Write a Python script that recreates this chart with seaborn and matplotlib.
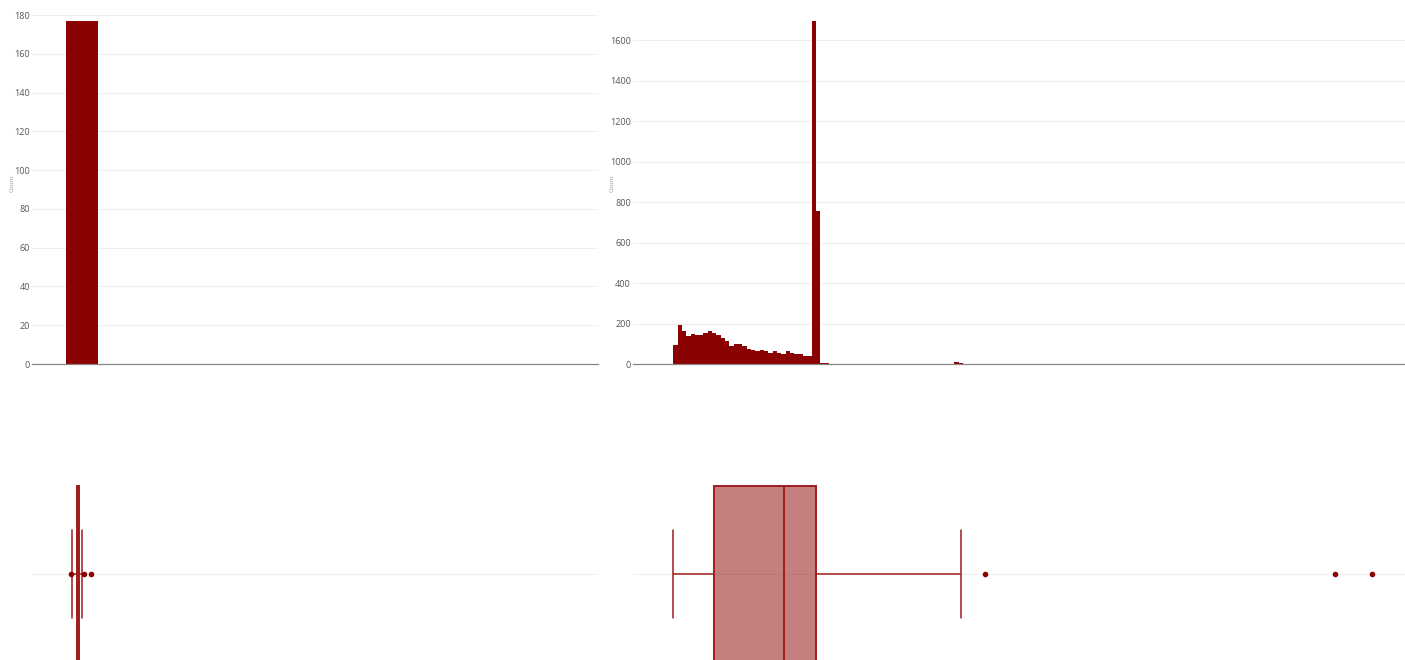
import numpy as np
import pandas as pd
import matplotlib
matplotlib.use("Agg")
import matplotlib.pyplot as plt
import seaborn as sns

# ---- data -----------------------------------------------------------------
# left variable: a single histogram bin and its box summary
left_bin_edges = [0.0, 10.0]
left_bin_counts = [177]
left_box = dict(whislo=2.0, q1=3.4, med=3.75, q3=4.1, whishi=5.1,
                fliers=[1.56, 5.72, 7.8])

# right variable: distinct values and how often each occurs
right_values = [0.0, 1.5, 2.5, 3.5, 4.5, 5.5, 6.5, 7.5, 8.5, 9.5,
                10.5, 11.5, 12.5, 13.5, 14.5, 15.5, 16.5, 17.5, 18.5, 19.5,
                20.5, 21.5, 22.5, 23.5, 24.5, 25.5, 26.5, 27.5, 28.5, 29.5,
                30.5, 31.5, 32.9, 33.5, 34.5, 35.5, 65.5, 66.5, 72.2, 153.0, 161.6]
right_counts = [92, 192, 163, 138, 148, 145, 145, 155, 163, 155,
                145, 130, 113, 88, 98, 98, 88, 75, 67, 62,
                68, 65, 55, 62, 55, 47, 62, 53, 50, 47,
                42, 40, 1695, 755, 4, 3, 8, 6, 1, 1, 1]

left_yticks = [0, 20, 40, 60, 80, 100, 120, 140, 160, 180]
right_yticks = [0, 200, 400, 600, 800, 1000, 1200, 1400, 1600]

# ---- style ----------------------------------------------------------------
sns.set_theme(style="white")
plt.rcParams["font.family"] = ["Open Sans", "DejaVu Sans"]

BAR = "#8B0000"
LINE = "#A01D1D"
FILL = (139 / 255, 0, 0, 0.5)
GRID = "#EEEEEE"
TICK = "#555555"

W, H = 1405, 660
fig = plt.figure(figsize=(W / 100, H / 100), dpi=100)


def px_axes(x0, y0, x1, y1):
    return fig.add_axes([x0 / W, 1 - y1 / H, (x1 - x0) / W, (y1 - y0) / H])


ax_tl = px_axes(32, 3, 598, 364)
ax_tr = px_axes(633, 3, 1405, 364)
ax_bl = px_axes(32, 400, 598, 660)
ax_br = px_axes(633, 400, 1405, 660)

# ---- histograms -----------------------------------------------------------
left_centers = [(a + b) / 2 for a, b in zip(left_bin_edges[:-1], left_bin_edges[1:])]
sns.histplot(x=left_centers, weights=left_bin_counts, bins=left_bin_edges,
             color=BAR, alpha=1, linewidth=0, ax=ax_tl)
sns.histplot(x=right_values, weights=right_counts, binwidth=1, binrange=(0, 162),
             color=BAR, alpha=1, linewidth=0, ax=ax_tr)

ax_tl.set_xlim(-10.6, 166.25)
ax_tl.set_ylim(0, 186.3)
ax_tl.set_yticks(left_yticks)
ax_tr.set_xlim(-9.3, 169.2)
ax_tr.set_ylim(0, 1784)
ax_tr.set_yticks(right_yticks)

for ax, label_x in ((ax_tl, -0.031), (ax_tr, -0.024)):
    ax.set_xticks([])
    ax.set_xlabel("")
    ax.set_ylabel("Count", fontsize=4.5, color="#999999")
    ax.yaxis.set_label_coords(label_x, 0.5)
    ax.grid(axis="y", color=GRID, linewidth=0.7)
    ax.set_axisbelow(True)
    for s in ("top", "right", "left"):
        ax.spines[s].set_visible(False)
    ax.spines["bottom"].set_color("#888888")
    ax.spines["bottom"].set_linewidth(0.9)
    ax.tick_params(axis="y", length=0, pad=1.5, labelsize=6.5, labelcolor=TICK)

# ---- box plots ------------------------------------------------------------
box_style = dict(
    boxprops=dict(facecolor=FILL, edgecolor=LINE, linewidth=1.4),
    medianprops=dict(color=LINE, linewidth=1.4),
    whiskerprops=dict(color=LINE, linewidth=1.1),
    capprops=dict(color=LINE, linewidth=1.1),
    flierprops=dict(marker="o", markersize=3, markerfacecolor=BAR,
                    markeredgecolor=BAR, linestyle="none"),
)

ax_bl.bxp([left_box], positions=[0], widths=0.8, orientation="horizontal",
          patch_artist=True, **box_style)

right_sample = np.repeat(right_values, right_counts)
sns.boxplot(x=right_sample, orient="h", width=0.8, whis=1.5, ax=ax_br,
            **box_style)
for p in ax_br.patches:
    p.set_facecolor(FILL)
    p.set_edgecolor(LINE)

ax_bl.set_xlim(-10.6, 166.25)
ax_br.set_xlim(-9.3, 169.2)
for ax in (ax_bl, ax_br):
    ax.set_ylim(0.39, -0.79)
    ax.set_yticks([0])
    ax.set_yticklabels([])
    ax.set_xticks([])
    ax.set_xlabel("")
    ax.set_ylabel("")
    ax.grid(axis="y", color=GRID, linewidth=0.7)
    ax.set_axisbelow(True)
    ax.tick_params(length=0)
    for s in ax.spines.values():
        s.set_visible(False)

fig.savefig("out.png", dpi=100)
